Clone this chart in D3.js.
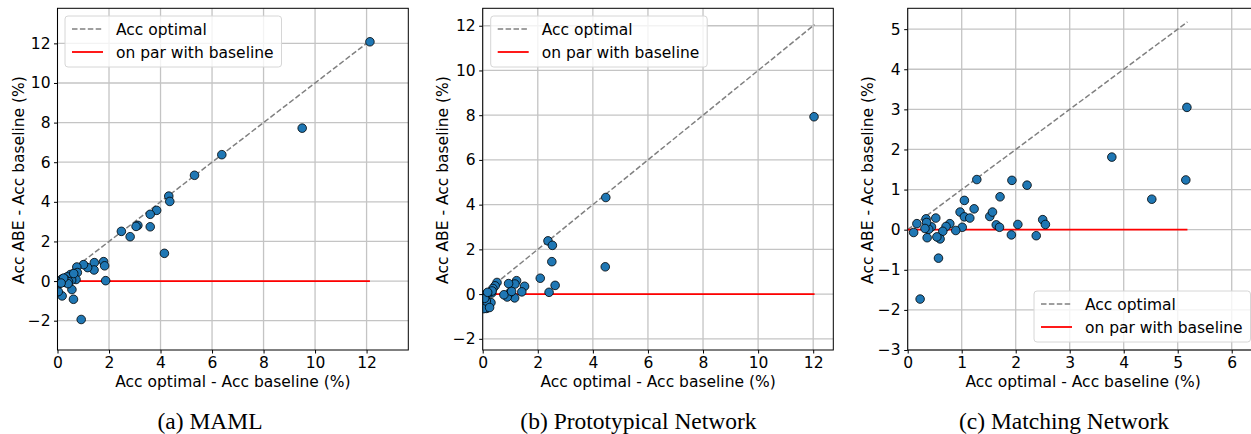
<!doctype html>
<html lang="en">
<head>
<meta charset="utf-8">
<title>ABE scatter</title>
<script src="https://cdn.jsdelivr.net/npm/d3@7/dist/d3.min.js"></script>
<style>
  body { margin: 0; background: #fff; }
  text { font-family: "DejaVu Sans", sans-serif; }
</style>
</head>
<body>
<svg id="fig" width="1251" height="434"></svg>
<script>
// (a) MAML
var mamlX = [12.13, 9.5, 6.38, 5.32, 4.32, 4.36, 3.85, 3.6, 3.6, 3.12, 3.05, 2.48, 2.82, 4.15,
  1.79, 1.83, 1.87, 1.43, 1.42, 1.17, 1.01, 0.92, 0.75, 0.77, 0.72, 0.62, 0.56, 0.5, 0.55,
  0.18, 0.03, 0.37, 0.28, 0.17, 0.11, 0.06, 0.3, 0.43, 0.41, 0.63, 0.24, 0.14];
var mamlY = [12.08, 7.72, 6.38, 5.34, 4.29, 4.02, 3.57, 3.37, 2.74, 2.81, 2.76, 2.51, 2.24, 1.4,
  0.98, 0.77, 0.02, 0.93, 0.56, 0.68, 0.83, -1.94, 0.71, 0.43, 0.08, -0.92, -0.43, 0.33, 0.05,
  -0.75, -0.53, 0.21, 0.1, 0.1, -0.03, -0.13, -0.07, -0.03, -0.13, 0.38, 0.15, -0.1];

// (b) Prototypical Network
var protoX = [12.03, 4.47, 4.45, 2.37, 2.53, 2.51, 2.63, 2.41, 2.09, 1.52, 1.42, 1.23, 1.17,
  1.16, 0.94, 0.99, 0.89, 0.77, 1.05, 0.52, 0.45, 0.37, 0.33, 0.3, 0.14, 0.08, 0.04, 0.2,
  0.1, 0.13, 0.25, 0.34, 0.07, 0.18];
var protoY = [7.93, 4.32, 1.22, 2.38, 2.18, 1.45, 0.39, 0.08, 0.71, 0.35, 0.1, 0.6, 0.45,
  -0.17, 0.47, 0.07, -0.13, -0.03, 0.12, 0.52, 0.37, 0.25, 0.05, -0.38, -0.64, -0.24, -0.65, 0.03,
  -0.02, -0.31, -0.6, 0.14, -0.19, 0.08];

// (c) Matching Network
var matchX = [5.17, 5.15, 4.52, 3.78, 2.21, 1.93, 1.71, 1.28, 1.05, 0.97, 1.05, 1.15, 1.23,
  1.01, 0.89, 0.78, 0.71, 0.65, 0.6, 0.54, 0.57, 0.52, 0.44, 0.39, 0.34, 0.35, 0.32, 0.36,
  0.17, 0.11, 0.23, 1.52, 1.57, 1.64, 1.7, 1.92, 2.04, 2.38, 2.5, 2.55];
var matchY = [3.05, 1.24, 0.76, 1.81, 1.11, 1.23, 0.82, 1.25, 0.73, 0.44, 0.32, 0.29, 0.52,
  0.06, -0.02, 0.15, 0.08, -0.04, -0.23, -0.18, -0.71, 0.29, 0.07, 0.01, 0.27, 0.18, 0.03, -0.2,
  0.15, -0.07, -1.73, 0.33, 0.44, 0.12, 0.06, -0.13, 0.13, -0.15, 0.25, 0.13];

var mamlXTicks = [0, 2, 4, 6, 8, 10, 12];
var mamlYTicks = [-2, 0, 2, 4, 6, 8, 10, 12];
var protoXTicks = [0, 2, 4, 6, 8, 10, 12];
var protoYTicks = [-2, 0, 2, 4, 6, 8, 10, 12];
var matchXTicks = [0, 1, 2, 3, 4, 5, 6];
var matchYTicks = [-3, -2, -1, 0, 1, 2, 3, 4, 5];

var captions = ["(a) MAML", "(b) Prototypical Network", "(c) Matching Network"];
var legendLabels = ["Acc optimal", "on par with baseline"];
var xLabel = "Acc optimal - Acc baseline (%)";
var yLabel = "Acc ABE - Acc baseline (%)";

var panels = [
  {xs: mamlX, ys: mamlY, xt: mamlXTicks, yt: mamlYTicks, end: 12.13,
   left: 57.5, width: 350.8, xdom: [0, 13.62], ydom: [-3.48, 13.77],
   legX: 65, legY: 16, capX: 210, ylabX: 18},
  {xs: protoX, ys: protoY, xt: protoXTicks, yt: protoYTicks, end: 12.05,
   left: 482.7, width: 350.6, xdom: [0, 12.73], ydom: [-2.5, 12.78],
   legX: 490.7, legY: 16, capX: 638.5, ylabX: 442.7},
  {xs: matchX, ys: matchY, xt: matchXTicks, yt: matchYTicks, end: 5.18,
   left: 907.7, width: 350.8, xdom: [0, 6.496], ydom: [-3, 5.52],
   legX: 1034, legY: 291, capX: 1064, ylabX: 867.7}
];

var plotTop = 8.3, plotBottom = 350;
var svg = d3.select("#fig");

panels.forEach(function(p, k) {
  var x = d3.scaleLinear().domain(p.xdom).range([p.left, p.left + p.width]);
  var y = d3.scaleLinear().domain(p.ydom).range([plotBottom, plotTop]);
  var g = svg.append("g");
  var fmt = function(d) { return d < 0 ? "\u2212" + Math.abs(d) : "" + d; };

  g.append("clipPath").attr("id", "clip" + k)
    .append("rect").attr("x", p.left).attr("y", plotTop)
    .attr("width", p.width).attr("height", plotBottom - plotTop);

  // grid
  g.append("g").selectAll("line").data(p.xt).enter().append("line")
    .attr("x1", d => x(d)).attr("x2", d => x(d)).attr("y1", plotTop).attr("y2", plotBottom)
    .attr("stroke", "#c4c4c4").attr("stroke-width", 1.3);
  g.append("g").selectAll("line").data(p.yt).enter().append("line")
    .attr("x1", p.left).attr("x2", p.left + p.width).attr("y1", d => y(d)).attr("y2", d => y(d))
    .attr("stroke", "#c4c4c4").attr("stroke-width", 1.3);

  var plot = g.append("g").attr("clip-path", "url(#clip" + k + ")");
  plot.append("line")
    .attr("x1", x(0)).attr("y1", y(0)).attr("x2", x(p.end)).attr("y2", y(p.end))
    .attr("stroke", "#808080").attr("stroke-width", 1.5).attr("stroke-dasharray", "5.5,2.4");
  plot.append("line")
    .attr("x1", x(0)).attr("y1", y(0)).attr("x2", x(p.end)).attr("y2", y(0))
    .attr("stroke", "#ff0000").attr("stroke-width", 1.8);
  plot.selectAll("circle").data(p.xs).enter().append("circle")
    .attr("cx", d => x(d)).attr("cy", (d, i) => y(p.ys[i])).attr("r", 4.3)
    .attr("fill", "#1f77b4").attr("stroke", "#000").attr("stroke-width", 0.8);

  // axes
  var xa = g.append("g").attr("transform", "translate(0," + plotBottom + ")")
    .call(d3.axisBottom(x).tickValues(p.xt).tickFormat(fmt).tickSize(3.5).tickPadding(3.5));
  var ya = g.append("g").attr("transform", "translate(" + p.left + ",0)")
    .call(d3.axisLeft(y).tickValues(p.yt).tickFormat(fmt).tickSize(3.5).tickPadding(3.5));
  [xa, ya].forEach(function(a) {
    a.select(".domain").remove();
    a.selectAll("text").attr("font-size", "15.5px").attr("fill", "#000")
      .style("font-family", "DejaVu Sans");
    a.selectAll("line").attr("stroke", "#000");
  });

  // frame
  g.append("rect").attr("x", p.left).attr("y", plotTop)
    .attr("width", p.width).attr("height", plotBottom - plotTop)
    .attr("fill", "none").attr("stroke", "#000").attr("stroke-width", 1);

  g.append("text").attr("x", p.left + 175.4).attr("y", 387)
    .attr("text-anchor", "middle").attr("font-size", "15.5px").text(xLabel);
  g.append("text").attr("transform", "translate(" + (p.ylabX + 5.5) + ",180) rotate(-90)")
    .attr("text-anchor", "middle").attr("font-size", "15.5px").text(yLabel);

  // legend
  var lg = g.append("g").attr("transform", "translate(" + p.legX + "," + p.legY + ")");
  lg.append("rect").attr("width", 216.5).attr("height", 51).attr("rx", 3)
    .attr("fill", "#fff").attr("fill-opacity", 0.8).attr("stroke", "#d6d6d6");
  lg.append("line").attr("x1", 7).attr("x2", 38).attr("y1", 13).attr("y2", 13)
    .attr("stroke", "#808080").attr("stroke-width", 1.5).attr("stroke-dasharray", "5.5,2.4");
  lg.append("line").attr("x1", 7).attr("x2", 38).attr("y1", 36).attr("y2", 36)
    .attr("stroke", "#ff0000").attr("stroke-width", 1.8);
  lg.selectAll("text.lab").data(legendLabels).enter().append("text")
    .attr("x", 51).attr("y", (d, i) => 18.5 + i * 23)
    .attr("font-size", "15.5px").text(d => d);

  svg.append("text").attr("x", p.capX).attr("y", 429).attr("text-anchor", "middle")
    .style("font-family", "'Liberation Serif', 'Times New Roman', serif")
    .attr("font-size", "23.5px").text(captions[k]);
});
</script>
</body>
</html>
